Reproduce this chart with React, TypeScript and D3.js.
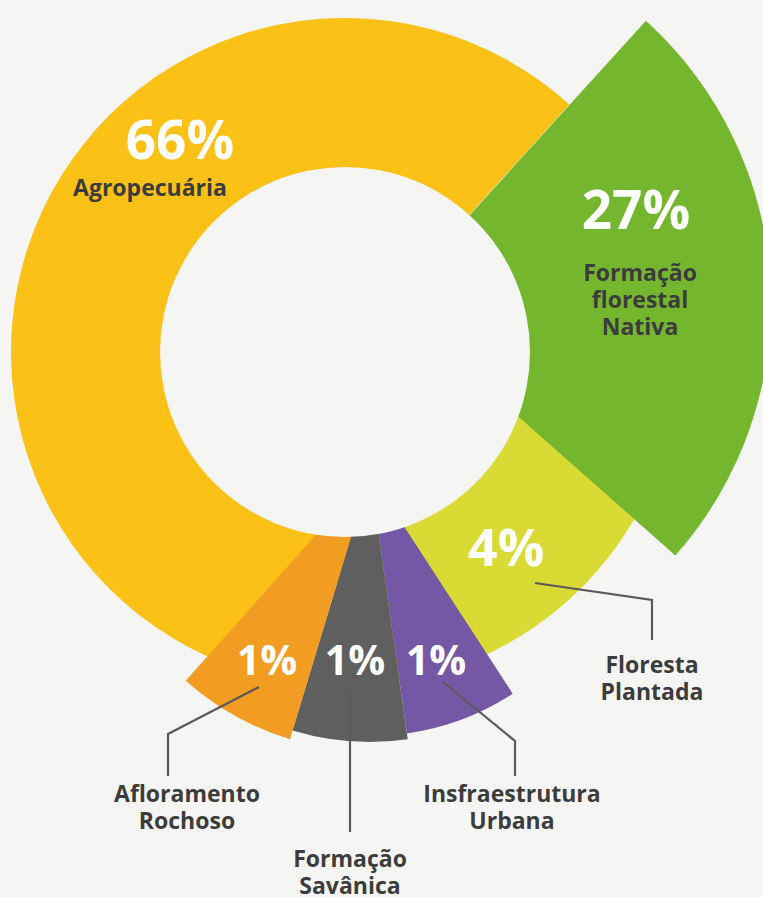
import React from "react";
import * as d3 from "d3";

// ---- data ----
const categories = [
  "Agropecuária",
  "Formação florestal Nativa",
  "Floresta Plantada",
  "Insfraestrutura Urbana",
  "Formação Savânica",
  "Afloramento Rochoso",
];
const values = [66, 27, 4, 1, 1, 1];
const nameLines = [
  ["Agropecuária"],
  ["Formação", "florestal", "Nativa"],
  ["Floresta", "Plantada"],
  ["Insfraestrutura", "Urbana"],
  ["Formação", "Savânica"],
  ["Afloramento", "Rochoso"],
];
const colors = ["#FCC116", "#74B72F", "#D9DB34", "#7558A5", "#5F5F5F", "#F29C22"];

// ---- layout (styling / geometry, not data) ----
const W = 763;
const H = 897;
const BG = "#F5F5F4";
const TEXT = "#3C3C3C";
const LINE = "#5A5A5A";
const FONT = "'Open Sans', 'Noto Sans', sans-serif";

const hole = { cx: 345, cy: 352, r: 185 };
const ring = { cx: 345, cy: 352, r: 334 };
const fan = { cx: 370, cy: 474, start: 147, end: 221.7 };
const fanRadius = [262, 268, 277]; // purple, gray, orange
const green = { cx: 390, cy: 303, r: 381, start: 42.2, end: 131.5 };

const rad = (deg: number) => (deg * Math.PI) / 180;

export default function App() {
  const arc = d3.arc<any>().innerRadius(0);

  // ring slices (Agropecuária & Floresta Plantada) around hole centre
  const ringSlices = [
    { i: 2, a0: 100, a1: 182 },
    { i: 0, a0: -172, a1: 42.2 },
  ];

  // small equal slices through d3.pie
  const fanIdx = [3, 4, 5];
  const fanPie = d3
    .pie<number>()
    .sort(null)
    .startAngle(rad(fan.start))
    .endAngle(rad(fan.end))(fanIdx.map((i) => values[i]));

  const pctLabels = [
    { i: 0, x: 180, y: 159, size: 53 },
    { i: 1, x: 636, y: 229, size: 53 },
    { i: 2, x: 506, y: 566, size: 52 },
    { i: 5, x: 267, y: 675, size: 41 },
    { i: 4, x: 355, y: 675, size: 41 },
    { i: 3, x: 436, y: 675, size: 41 },
  ];
  const nameLabels = [
    { i: 0, x: 150, y: 196 },
    { i: 1, x: 640, y: 281 },
    { i: 2, x: 652, y: 673 },
    { i: 3, x: 512, y: 802 },
    { i: 4, x: 350, y: 867 },
    { i: 5, x: 187, y: 802 },
  ];
  const leaders = [
    [[535, 583], [652, 600], [652, 640]],
    [[259, 687], [168, 734], [168, 776]],
    [[350, 692], [350, 832]],
    [[443, 682], [515, 741], [515, 776]],
  ];
  const line = d3.line();

  return (
    <svg
      width={W}
      height={H}
      style={{ position: "absolute", left: 0, top: 0, display: "block" }}
      fontFamily={FONT}
    >
      <rect width={W} height={H} fill={BG} />
      {ringSlices.map((s) => (
        <path
          key={"r" + s.i}
          transform={`translate(${ring.cx},${ring.cy})`}
          d={arc({ outerRadius: ring.r, startAngle: rad(s.a0), endAngle: rad(s.a1) }) as string}
          fill={colors[s.i]}
        />
      ))}
      <path
        transform={`translate(${green.cx},${green.cy})`}
        d={arc({ outerRadius: green.r, startAngle: rad(green.start), endAngle: rad(green.end) }) as string}
        fill={colors[1]}
      />
      {fanPie.map((p, k) => (
        <path
          key={"f" + k}
          transform={`translate(${fan.cx},${fan.cy})`}
          d={arc({ outerRadius: fanRadius[k], startAngle: p.startAngle, endAngle: p.endAngle }) as string}
          fill={colors[fanIdx[k]]}
        />
      ))}
      <circle cx={hole.cx} cy={hole.cy} r={hole.r} fill={BG} />
      {leaders.map((pts, k) => (
        <path key={"l" + k} d={line(pts as [number, number][]) as string} fill="none" stroke={LINE} strokeWidth={2.2} />
      ))}
      {pctLabels.map((l) => (
        <text
          key={"p" + l.i}
          x={l.x}
          y={l.y}
          textAnchor="middle"
          fontSize={l.size}
          fontWeight={700}
          fill="#FFFFFF"
        >
          {values[l.i] + "%"}
        </text>
      ))}
      {nameLabels.map((l) => (
        <text key={"n" + l.i} textAnchor="middle" fontSize={23} fontWeight={700} fill={TEXT}>
          {nameLines[l.i].map((t, j) => (
            <tspan key={j} x={l.x} y={l.y + j * 27}>
              {t}
            </tspan>
          ))}
        </text>
      ))}
    </svg>
  );
}
